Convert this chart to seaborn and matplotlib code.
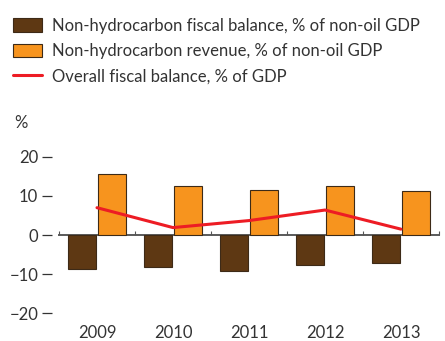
import matplotlib
matplotlib.use("Agg")
import matplotlib.pyplot as plt
from matplotlib.patches import Patch
from matplotlib.lines import Line2D
import seaborn as sns
import pandas as pd
import numpy as np

# data
years = ["2009", "2010", "2011", "2012", "2013"]
non_hc_balance = [-8.8, -8.3, -9.3, -7.6, -7.1]
non_hc_revenue = [15.6, 12.5, 11.5, 12.5, 11.3]
overall_balance = [7.0, 1.9, 3.7, 6.4, 1.5]
series_names = ["Non-hydrocarbon fiscal balance, % of non-oil GDP",
                "Non-hydrocarbon revenue, % of non-oil GDP",
                "Overall fiscal balance, % of GDP"]
yticks = [-20, -10, 0, 10, 20]

brown = "#5e3813"
orange = "#f7941e"
red = "#ed1c24"
txt = "#333333"
edge = "#3d2a17"

sns.set_style("white")
plt.rcParams["font.family"] = ["Lato", "DejaVu Sans"]

df = pd.DataFrame({
    "year": years * 2,
    "value": non_hc_balance + non_hc_revenue,
    "series": [series_names[0]] * 5 + [series_names[1]] * 5,
})

fig = plt.figure(figsize=(4.45, 3.41), dpi=100)
ax = fig.add_axes([0.1326, 0.0592, 0.8539, 0.5033])

sns.barplot(data=df, x="year", y="value", hue="series",
            palette=[brown, orange], width=0.79, gap=0.07,
            edgecolor=edge, linewidth=0.8, saturation=1,
            legend=False, ax=ax)
sns.pointplot(x=years, y=overall_balance, color=red, markers="",
              linewidth=2.2, errorbar=None, ax=ax)

ax.set_xlim(-0.5, 4.5)
ax.set_ylim(-22, 22)
ax.set_yticks(yticks)
ax.set_yticklabels(["\u221220", "\u221210", "0", "10", "20"])
ax.set_xlabel("")
ax.set_ylabel("")

# zero line with small upward ticks at group boundaries
for s in ["left", "right", "bottom"]:
    ax.spines[s].set_visible(False)
ax.spines["top"].set_position(("data", 0))
ax.spines["top"].set_color("#5a5a5a")
ax.spines["top"].set_linewidth(1.4)
ax.spines["top"].set_zorder(0.5)
ax.set_xticks(np.arange(-0.5, 5, 1), minor=True)
ax.tick_params(axis="x", which="minor", top=True, bottom=False,
               direction="out", length=3, width=0.8, color="#555555")
ax.tick_params(axis="x", which="major", top=False, bottom=True,
               length=0, pad=3, labelsize=12, labelcolor=txt)

ax.spines["left"].set_position(("outward", 5))
ax.spines["right"].set_position(("outward", 4))
ax.tick_params(axis="y", left=True, right=True, direction="out",
               length=7, width=0.9, color=txt, pad=3,
               labelsize=12, labelcolor=txt)

fig.text(0.032, 0.625, "%", fontsize=12, color=txt)

handles = [Patch(facecolor=brown, edgecolor=edge, linewidth=0.8),
           Patch(facecolor=orange, edgecolor=edge, linewidth=0.8),
           Line2D([0], [0], color=red, linewidth=2.2)]
fig.legend(handles, series_names, loc="upper left",
           bbox_to_anchor=(0.03, 0.947), frameon=False, fontsize=12,
           handlelength=1.7, handleheight=0.9, handletextpad=0.6,
           labelspacing=0.55, borderpad=0, borderaxespad=0,
           labelcolor=txt)

fig.savefig("out.png", dpi=100)
